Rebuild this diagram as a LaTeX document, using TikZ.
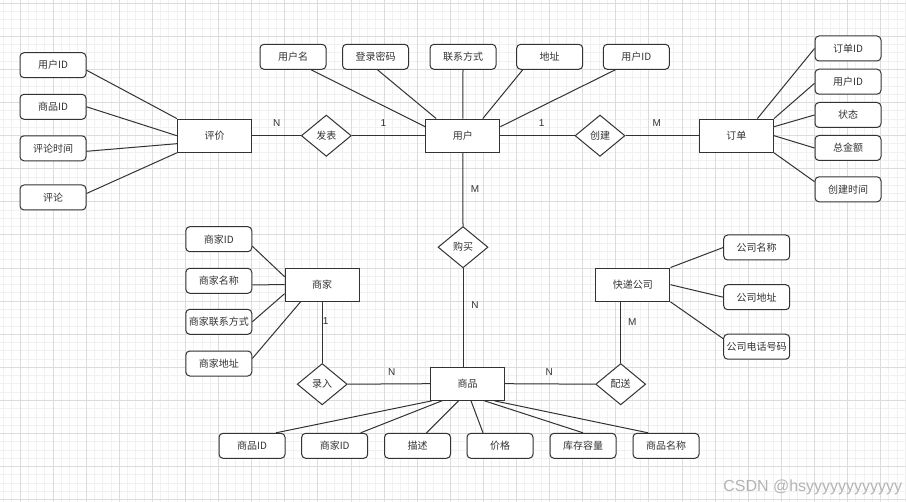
\documentclass[tikz,border=0pt]{standalone}
\usepackage{fontspec}
\setmainfont{Noto Sans CJK SC}
\newfontfamily\latf{Liberation Sans}
\usetikzlibrary{shapes.geometric,calc}
\definecolor{gmaj}{HTML}{DCDCDC}
\definecolor{gmin}{HTML}{F1F1F1}
\definecolor{ink}{HTML}{333333}
\definecolor{wmark}{HTML}{B4B4B4}
\begin{document}
\begin{tikzpicture}[x=0.75pt,y=-0.75pt,
  every node/.style={font=\fontsize{7.5}{9}\selectfont, text=ink},
  attr/.style={draw=ink, fill=white, rounded corners=3pt, minimum width=49.5pt, minimum height=18.75pt, inner sep=0pt, line width=0.75pt},
  ent/.style={draw=ink, fill=white, minimum width=55.5pt, minimum height=24.75pt, inner sep=0pt, line width=0.95pt},
  rel/.style={diamond, draw=ink, fill=white, minimum width=37.5pt, minimum height=31pt, inner sep=0pt, line width=0.75pt},
  conn/.style={draw=ink, line width=0.75pt},
  card/.style={font=\latf\fontsize{7.5}{9}\selectfont, inner sep=0pt}
]
\useasboundingbox (0,0) rectangle (906,502);
\clip (0,0) rectangle (906,502);
\fill[white] (0,0) rectangle (906,502);
% grid
\foreach \i in {-2,...,107} \draw[gmin, line width=0.75pt] ({20+8.275*\i},0) -- ({20+8.275*\i},502);
\foreach \i in {0,...,60} \draw[gmin, line width=0.75pt] (0,{3.3+8.275*\i}) -- (906,{3.3+8.275*\i});
\foreach \i in {0,...,27} \draw[gmaj, line width=0.75pt] ({20+33.1*\i},0) -- ({20+33.1*\i},502);
\foreach \i in {0,...,15} \draw[gmaj, line width=0.75pt] (0,{3.3+33.1*\i}) -- (906,{3.3+33.1*\i});

% entities
\node[ent] (pj) at (214.5,135.7) {评价};
\node[ent] (yh) at (462.8,135.7) {用户};
\node[ent] (dd) at (736.4,135.7) {订单};
\node[ent] (sj) at (322.2,284.7) {商家};
\node[ent] (kd) at (632.8,284.7) {快递公司};
\node[ent] (sp) at (467.5,383.7) {商品};

% relationships
\node[rel] (fb) at (326.3,135.7) {发表};
\node[rel] (cj) at (600,135.7) {创建};
\node[rel] (gm) at (463,247.2) {购买};
\node[rel] (lr) at (322.2,384.2) {录入};
\node[rel] (ps) at (620.7,384.2) {配送};

% attributes of 评价
\node[attr] (a1) at (53,65.2) {用户ID};
\node[attr] (a2) at (53,106.8) {商品ID};
\node[attr] (a3) at (53,148.3) {评论时间};
\node[attr] (a4) at (53,197.5) {评论};
% attributes of 用户
\node[attr] (b1) at (293,56.8) {用户名};
\node[attr] (b2) at (375.5,56.8) {登录密码};
\node[attr] (b3) at (463,56.8) {联系方式};
\node[attr] (b4) at (549.7,56.8) {地址};
\node[attr] (b5) at (636.3,56.8) {用户ID};
% attributes of 订单
\node[attr] (c1) at (848,48.5) {订单ID};
\node[attr] (c2) at (848,81.7) {用户ID};
\node[attr] (c3) at (848,115) {状态};
\node[attr] (c4) at (848,148) {总金额};
\node[attr] (c5) at (848,189.3) {创建时间};
% attributes of 商家
\node[attr] (d1) at (218.8,239.2) {商家ID};
\node[attr] (d2) at (218.8,280.8) {商家名称};
\node[attr] (d3) at (218.8,321.8) {商家联系方式};
\node[attr] (d4) at (218.8,363.5) {商家地址};
% attributes of 快递公司
\node[attr] (e1) at (756.7,247.5) {公司名称};
\node[attr] (e2) at (756.7,297.2) {公司地址};
\node[attr] (e3) at (756.7,346.7) {公司电话号码};
% attributes of 商品
\node[attr] (f1) at (252,445.8) {商品ID};
\node[attr] (f2) at (334.7,445.8) {商家ID};
\node[attr] (f3) at (417.5,445.8) {描述};
\node[attr] (f4) at (500,445.8) {价格};
\node[attr] (f5) at (583,445.8) {库存容量};
\node[attr] (f6) at (666,445.8) {商品名称};

% connectors: 评价
\draw[conn] ($(a1.east)+(0,5)$) -- (pj.north west);
\draw[conn] (a2.east) -- (pj.west);
\draw[conn] ($(a3.east)+(0,3)$) -- ($(pj.west)+(0,8)$);
\draw[conn] ($(a4.east)+(0,-4)$) -- (pj.south west);
% 用户
\draw[conn] ($(b1.south)+(18,0)$) -- ($(yh.west)+(0,-9)$);
\draw[conn] ($(b2.south)+(2,0)$) -- ($(yh.north west)+(11,0)$);
\draw[conn] (b3.south) -- (yh.north);
\draw[conn] ($(b4.south)+(-27,0)$) -- ($(yh.north)+(20,0)$);
\draw[conn] ($(b5.south)+(-21,0)$) -- ($(yh.east)+(0,-9)$);
% 订单
\draw[conn] (c1.west) -- ($(dd.north)+(21,0)$);
\draw[conn] ($(c2.west)+(0,1.6)$) -- (dd.north east);
\draw[conn] (c3.west) -- ($(dd.east)+(0,-9)$);
\draw[conn] (c4.west) -- (dd.east);
\draw[conn] ($(c5.west)+(0,-7.6)$) -- (dd.south east);
% 商家
\draw[conn] ($(d1.east)+(0,7)$) -- ($(sj.west)+(0,-8)$);
\draw[conn] ($(d2.east)+(0,4)$) -- (sj.west);
\draw[conn] (d3.east) -- ($(sj.west)+(0,9)$);
\draw[conn] ($(d4.east)+(0,-5)$) -- ($(sj.south west)+(16,0)$);
% 快递公司
\draw[conn] (e1.west) -- (kd.north east);
\draw[conn] (e2.west) -- (kd.east);
\draw[conn] ($(e3.west)+(0,-8)$) -- (kd.south east);
% 商品
\draw[conn] ($(f1.north)+(24,0)$) -- ($(sp.south west)+(2,0)$);
\draw[conn] ($(f2.north)+(26,0)$) -- ($(sp.south west)+(12,0)$);
\draw[conn] ($(f3.north)+(9,0)$) -- ($(sp.south)+(-9,0)$);
\draw[conn] ($(f4.north)+(-17,0)$) -- ($(sp.south)+(3.5,0)$);
\draw[conn] (f5.north) -- ($(sp.south)+(17,0)$);
\draw[conn] ($(f6.north)+(-18,0)$) -- ($(sp.south)+(27,0)$);

% relationship lines
\draw[conn] (pj.east) -- (fb.west);
\draw[conn] (fb.east) -- (yh.west);
\draw[conn] (yh.east) -- (cj.west);
\draw[conn] (cj.east) -- (dd.west);
\draw[conn] (yh.south) -- (gm.north);
\draw[conn] (gm.south) -- (gm.south |- sp.north);
\draw[conn] (sj.south) -- (lr.north);
\draw[conn] (lr.east) -- (sp.west);
\draw[conn] (sp.east) -- (ps.west);
\draw[conn] (ps.north |- kd.south) -- (ps.north);

% cardinalities
\node[card] (l1) at (276.7,122.7) {N};
\node[card] (l2) at (383.3,122.7) {1};
\node[card] (l3) at (541.7,122.7) {1};
\node[card] (l4) at (656.7,122.7) {M};
\node[card] (l5) at (475,189.3) {M};
\node[card] (l6) at (475,305) {N};
\node[card] (l7) at (325.7,321) {1};
\node[card] (l8) at (391.7,371.7) {N};
\node[card] (l9) at (549.3,371.7) {N};
\node[card] (l10) at (632.3,321.7) {M};

% watermark
\node[anchor=west, inner sep=0pt, text=wmark, font=\latf\fontsize{12}{14}\selectfont] (wm) at (723,487) {CSDN @hsyyyyyyyyyyyy};
\end{tikzpicture}
\end{document}
